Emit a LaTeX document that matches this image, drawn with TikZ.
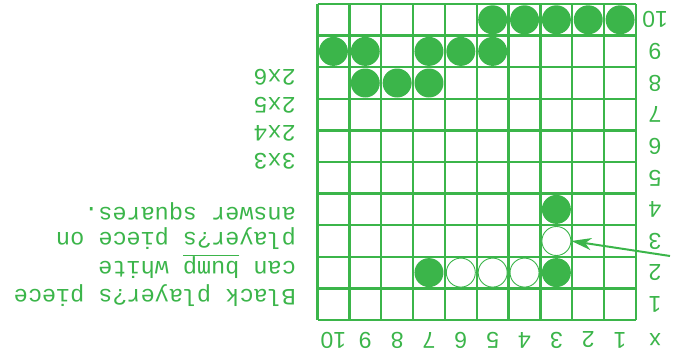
\documentclass[tikz,border=0pt]{standalone}
\usepackage{fontspec}
\newfontfamily\monof{Liberation Mono}
\newfontfamily\sansf{Liberation Sans}
\usetikzlibrary{arrows.meta}
\definecolor{gr}{RGB}{59,181,74}
\begin{document}
\begin{tikzpicture}[x=1pt,y=-1pt,
  gridline/.style={draw=gr,line width=2.3pt},
  bpiece/.style={circle,fill=gr,draw=none,minimum size=29pt,inner sep=0pt},
  wpiece/.style={circle,fill=white,draw=gr,line width=0.9pt,minimum size=29pt,inner sep=0pt},
  numlab/.style={text=gr,font=\sansf\fontsize{23}{23}\selectfont,rotate=180,inner sep=0pt},
  note/.style={text=gr,font=\monof\fontsize{23.5}{28}\selectfont,rotate=180,anchor=west,inner sep=0pt},
  pointer/.style={draw=gr,line width=2pt,-{Stealth[length=20pt,width=12pt,inset=6pt]}}]
\useasboundingbox (0,0) rectangle (677,356);
% grid
\foreach \i in {0,...,10} {
  \draw[gridline] ({317.5+31.85*\i},4) -- ({317.5+31.85*\i},320);
  \draw[gridline] (317.5,{4+31.6*\i}) -- (636,{4+31.6*\i});
}
% black pieces
\foreach \r/\c in {10/1,10/2,10/3,10/4,10/5,9/5,9/6,9/7,9/9,9/10,8/7,8/8,8/9,4/3,2/3,2/7}
  \node[bpiece] (b\r-\c) at ({636-31.85*(\c-0.5)},{320-31.6*(\r-0.5)}) {};
% white pieces
\foreach \r/\c in {3/3,2/4,2/5,2/6}
  \node[wpiece] (w\r-\c) at ({636-31.85*(\c-0.5)},{320-31.6*(\r-0.5)}) {};
% row labels
\foreach \r in {1,...,10}
  \node[numlab] (row\r) at (655,{320-31.6*(\r-0.5)}) {\r};
% column labels
\foreach \c in {1,...,10}
  \node[numlab] (col\c) at ({636-31.85*(\c-0.5)},340) {\c};
\node[numlab] (xlab) at (655,340) {x};
% arrow
\coordinate (atail) at (670,256);
\draw[pointer] (atail) -- (w3-3.east);
% notes
\node[note] (n1) at (296,77) {2x6};
\node[note] (n2) at (296,105) {2x5};
\node[note] (n3) at (296,133) {2x4};
\node[note] (n4) at (296,161) {3x3};
\node[note] (t1) at (296,211) {answer squares.};
\node[note] (t2) at (296,239) {player?s piece on};
\node[note] (t3) at (296,267) {can \underline{bump} white};
\node[note] (t4) at (296,296) {Black player?s piece};
\end{tikzpicture}
\end{document}
